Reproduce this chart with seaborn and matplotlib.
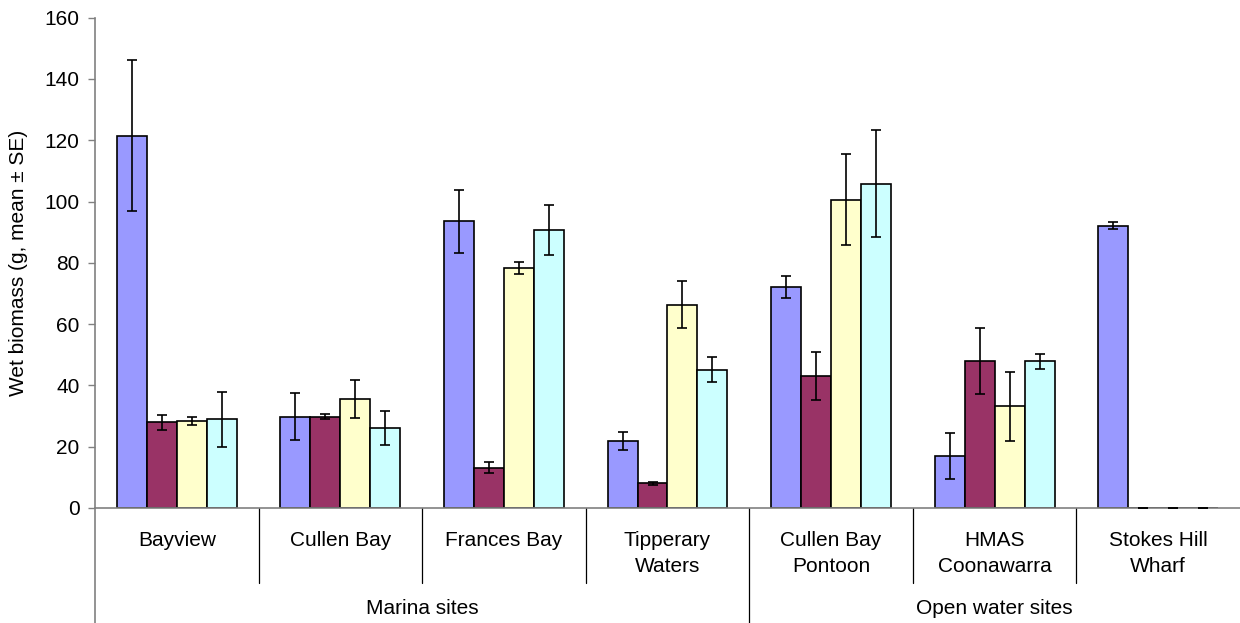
import numpy as np
import pandas as pd
import matplotlib.pyplot as plt
import matplotlib.transforms as mtransforms
import seaborn as sns

sites = ["Bayview", "Cullen Bay", "Frances Bay", "Tipperary\nWaters",
         "Cullen Bay\nPontoon", "HMAS\nCoonawarra", "Stokes Hill\nWharf"]
groups = ["Marina sites", "Open water sites"]
group_centers = [1.5, 5.0]
series = ["S1", "S2", "S3", "S4"]

mean_s1 = [121.5, 29.8, 93.6, 21.8, 72.2, 17.0, 92.1]
mean_s2 = [28.0, 29.8, 13.2, 8.1, 43.1, 47.9, 0.0]
mean_s3 = [28.4, 35.6, 78.4, 66.4, 100.6, 33.2, 0.0]
mean_s4 = [29.0, 26.1, 90.7, 45.1, 105.8, 47.9, 0.0]

se_s1 = [24.6, 7.6, 10.3, 3.0, 3.6, 7.4, 1.2]
se_s2 = [2.4, 0.9, 1.7, 0.5, 7.7, 10.7, 0.0]
se_s3 = [1.4, 6.2, 2.0, 7.8, 14.9, 11.2, 0.0]
se_s4 = [9.0, 5.5, 8.3, 4.1, 17.4, 2.4, 0.0]

colors = ["#9999FF", "#993366", "#FFFFCC", "#CCFFFF"]

means = [mean_s1, mean_s2, mean_s3, mean_s4]
ses = [se_s1, se_s2, se_s3, se_s4]
df = pd.DataFrame({
    "site": sites * 4,
    "series": np.repeat(series, len(sites)),
    "mean": np.concatenate(means),
})

sns.set_style("white")
plt.rcParams["font.family"] = ["Liberation Sans", "DejaVu Sans"]
plt.rcParams["text.color"] = "black"
plt.rcParams["axes.labelcolor"] = "black"
plt.rcParams["ytick.labelcolor"] = "black"

fs = 15

fig = plt.figure(figsize=(12.4, 6.23), dpi=100)
ax = fig.add_axes([0.0766, 0.1846, 0.9234, 0.787])

sns.barplot(data=df, x="site", y="mean", hue="series", order=sites,
            hue_order=series, palette=colors, width=0.733, errorbar=None,
            edgecolor="black", linewidth=1.2, saturation=1, legend=False, ax=ax)

# error bars (mean +- SE) at the bar centres
for cont, se in zip(ax.containers, ses):
    xs = [b.get_x() + b.get_width() / 2 for b in cont]
    hs = [b.get_height() for b in cont]
    ax.errorbar(xs, hs, yerr=se, fmt="none", ecolor="black",
                elinewidth=1.2, capsize=3.3, capthick=1.2, zorder=5)

ax.set_xlim(-0.5, 6.5)
ax.set_ylim(0, 160)
ax.set_yticks(np.arange(0, 161, 20))
ax.tick_params(axis="y", labelsize=fs, length=5, width=1, color="#808080",
               labelcolor="black", left=True, pad=6)
ax.set_xticks([])
ax.set_xlabel("")
ax.set_ylabel("Wet biomass (g, mean \u00b1 SE)", fontsize=fs, labelpad=12,
              color="black")

for side in ["top", "right"]:
    ax.spines[side].set_visible(False)
for side in ["left", "bottom"]:
    ax.spines[side].set_color("#808080")
    ax.spines[side].set_linewidth(1.2)

# two level category axis
trans = mtransforms.blended_transform_factory(ax.transData, ax.transAxes)
for i in range(len(sites) - 1):
    x = i + 0.5
    y_end = -0.236 if x == 3.5 else -0.153
    ax.plot([x, x], [0, y_end], color="black", lw=0.9, transform=trans,
            clip_on=False)
ax.plot([-0.5, -0.5], [0, -0.236], color="#808080", lw=1.2, transform=trans,
        clip_on=False)

for i, s in enumerate(sites):
    ax.text(i, -0.046, s, transform=trans, ha="center", va="top",
            fontsize=fs, linespacing=1.5, color="black")
for g, c in zip(groups, group_centers):
    ax.text(c, -0.205, g, transform=trans, ha="center", va="center",
            fontsize=fs, color="black")

fig.savefig("out.png", dpi=100)
